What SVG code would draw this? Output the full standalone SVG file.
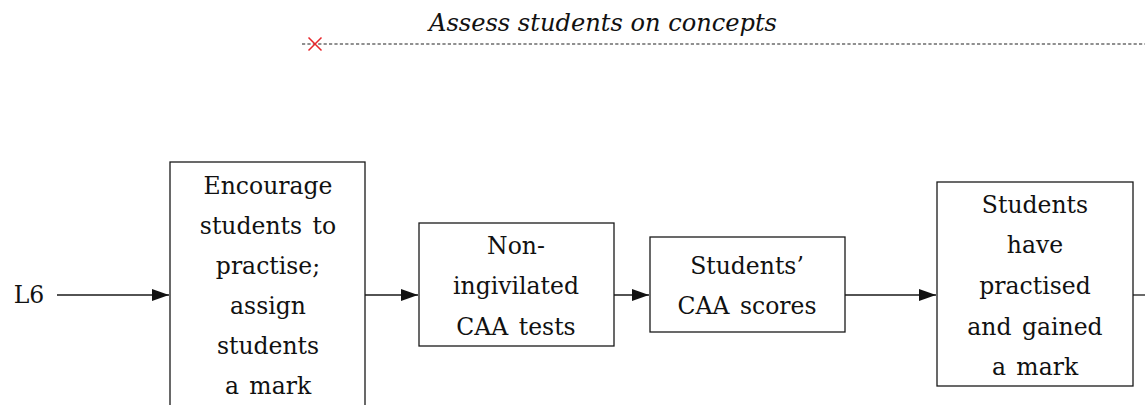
<svg xmlns="http://www.w3.org/2000/svg" width="1145" height="405" viewBox="0 0 1145 405">
<style>
.box{fill:#fff;stroke:#1a1a1a;stroke-width:1.3}
.t{font-family:"DejaVu Serif","Liberation Serif",serif;font-size:23.5px;fill:#111;text-anchor:middle;word-spacing:3px}
.ln{stroke:#1a1a1a;stroke-width:1.3;fill:none}
</style>
<defs>
<marker id="ah" markerUnits="userSpaceOnUse" markerWidth="18" markerHeight="14" refX="17" refY="7" orient="auto">
<path d="M0,1 L17,7 L0,13 Z" fill="#111"/>
</marker>
</defs>
<g id="title">
<text x="603" y="31" font-family="'DejaVu Serif','Liberation Serif',serif" font-style="italic" font-size="24" fill="#111" text-anchor="middle" textLength="348" lengthAdjust="spacingAndGlyphs">Assess students on concepts</text>
<line x1="302" y1="44" x2="1145" y2="44" stroke="#222" stroke-width="1.1" stroke-dasharray="3.2,2.2"/>
<path d="M308.5,37.5 L321.5,50.5 M321.5,37.5 L308.5,50.5" stroke="#e8262b" stroke-width="1.5"/>
</g>
<g id="connectors">
<line class="ln" x1="57" y1="295" x2="169" y2="295" marker-end="url(#ah)"/>
<line class="ln" x1="365" y1="295" x2="418" y2="295" marker-end="url(#ah)"/>
<line class="ln" x1="614" y1="295" x2="649" y2="295" marker-end="url(#ah)"/>
<line class="ln" x1="845" y1="295" x2="936" y2="295" marker-end="url(#ah)"/>
<line class="ln" x1="1133" y1="295" x2="1145" y2="295"/>
</g>
<g id="L6">
<text class="t" x="29" y="303">L6</text>
</g>
<g id="n1">
<rect class="box" x="170" y="162" width="195" height="260"/>
<text class="t" x="268" y="194">Encourage</text>
<text class="t" x="268" y="234">students to</text>
<text class="t" x="268" y="274">practise;</text>
<text class="t" x="268" y="314">assign</text>
<text class="t" x="268" y="354">students</text>
<text class="t" x="268" y="394">a mark</text>
</g>
<g id="n2">
<rect class="box" x="419" y="223" width="195" height="123"/>
<text class="t" x="516" y="254">Non-</text>
<text class="t" x="516" y="294">ingivilated</text>
<text class="t" x="516" y="335">CAA tests</text>
</g>
<g id="n3">
<rect class="box" x="650" y="237" width="195" height="95"/>
<text class="t" x="747" y="274">Students’</text>
<text class="t" x="747" y="314">CAA scores</text>
</g>
<g id="n4">
<rect class="box" x="937" y="182" width="196" height="204"/>
<text class="t" x="1035" y="213">Students</text>
<text class="t" x="1035" y="253">have</text>
<text class="t" x="1035" y="294">practised</text>
<text class="t" x="1035" y="335">and gained</text>
<text class="t" x="1035" y="375">a mark</text>
</g>
</svg>
